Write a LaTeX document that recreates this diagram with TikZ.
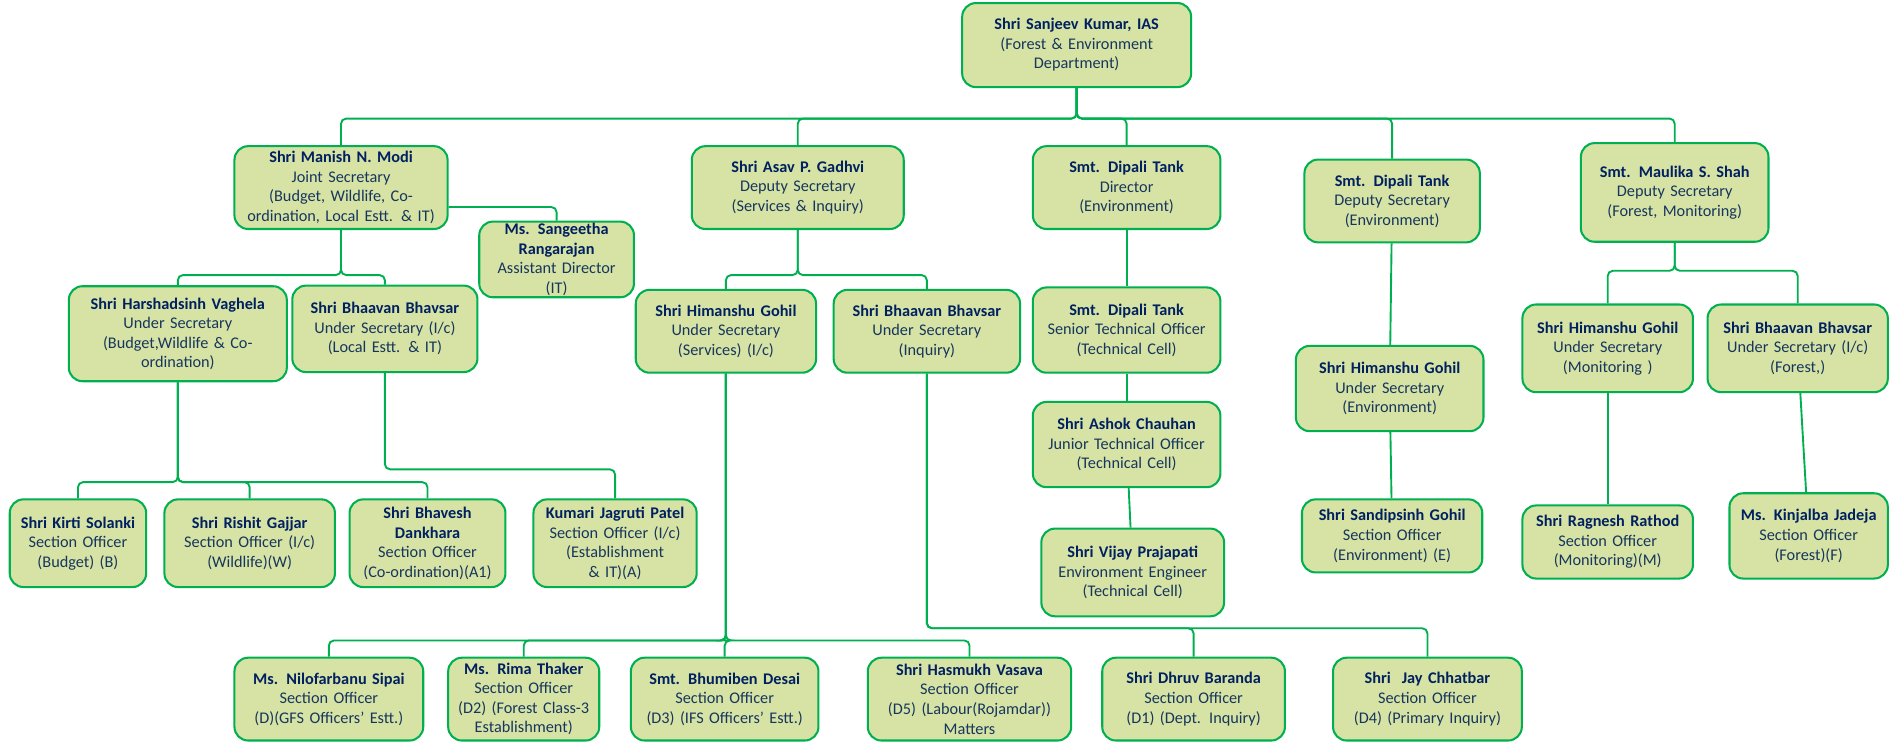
\documentclass[tikz,border=0pt]{standalone}
\usepackage{fontspec}
\setmainfont{Carlito}
\definecolor{boxfill}{RGB}{214,227,165}
\definecolor{boxline}{RGB}{0,176,80}
\definecolor{namecol}{RGB}{0,32,96}
\definecolor{bodycol}{RGB}{23,54,93}
\newcommand{\nm}[1]{{\bfseries\color{namecol}#1}}
\tikzset{
  box/.style 2 args={draw=boxline, fill=boxfill, line width=1.2pt, rounded corners=8pt,
    minimum width={#1*0.025cm}, minimum height={#2*0.025cm}, text width={(#1-8)*0.025cm},
    align=center, inner sep=1pt, text=bodycol,
    font=\fontsize{9.5}{11.4}\selectfont},
  link/.style={draw=boxline, line width=1.1pt, rounded corners=3pt}
}
\begin{document}
\begin{tikzpicture}[x=0.025cm, y=-0.025cm]
  \useasboundingbox (0,0) rectangle (1560,612);

  % top
  \node[box={188}{69}] (root) at (884,37) {\nm{Shri Sanjeev Kumar, IAS}\\(Forest \& Environment\\Department)};

  % secretaries
  \node[box={175}{68}] (modi) at (280,154) {\nm{Shri Manish N. Modi}\\Joint Secretary\\(Budget, Wildlife, Co-\\ordination, Local Estt. \& IT)};
  \node[box={127}{62}] (sang) at (457,213) {\nm{Ms. Sangeetha}\\\nm{Rangarajan}\\Assistant Director\\(IT)};
  \node[box={174}{68}] (gadhvi) at (655,154) {\nm{Shri Asav P. Gadhvi}\\Deputy Secretary\\(Services \& Inquiry)};
  \node[box={154}{68}] (dipdir) at (925,154) {\nm{Smt. Dipali Tank}\\Director\\(Environment)};
  \node[box={144}{68}] (dipdep) at (1143,165) {\nm{Smt. Dipali Tank}\\Deputy Secretary\\(Environment)};
  \node[box={154}{81}] (maulika) at (1375,158) {\nm{Smt. Maulika S. Shah}\\Deputy Secretary\\(Forest, Monitoring)};

  % under secretaries
  \node[box={179}{78}] (harsh) at (146,274) {\nm{Shri Harshadsinh Vaghela}\\Under Secretary\\(Budget,Wildlife \& Co-\\ordination)};
  \node[box={152}{71}] (bhavL) at (316,270) {\nm{Shri Bhaavan Bhavsar}\\Under Secretary  (I/c)\\(Local Estt. \& IT)};
  \node[box={148}{68}] (himS) at (596,272) {\nm{Shri Himanshu Gohil}\\Under Secretary\\(Services) (I/c)};
  \node[box={153}{68}] (bhavI) at (761,272) {\nm{Shri Bhaavan Bhavsar}\\Under Secretary\\(Inquiry)};
  \node[box={154}{70}] (dipsen) at (925,271) {\nm{Smt. Dipali Tank}\\Senior Technical Officer\\(Technical Cell)};
  \node[box={154}{70}] (ashok) at (925,365) {\nm{Shri Ashok Chauhan}\\Junior Technical Officer\\(Technical Cell)};
  \node[box={150}{72}] (vijay) at (930,470) {\nm{Shri Vijay Prajapati}\\Environment Engineer\\(Technical Cell)};
  \node[box={154}{70}] (himE) at (1141,319) {\nm{Shri Himanshu Gohil}\\Under Secretary\\(Environment)};
  \node[box={148}{60}] (sandip) at (1143,440) {\nm{Shri Sandipsinh Gohil}\\Section Officer\\(Environment) (E)};
  \node[box={140}{72}] (himM) at (1320,286) {\nm{Shri Himanshu Gohil}\\Under Secretary\\(Monitoring )};
  \node[box={148}{72}] (bhavF) at (1476,286) {\nm{Shri Bhaavan Bhavsar}\\Under Secretary (I/c)\\(Forest,)};
  \node[box={140}{60}] (ragnesh) at (1320,445) {\nm{Shri Ragnesh Rathod}\\Section Officer\\(Monitoring)(M)};
  \node[box={130}{70}] (kinjal) at (1485,440) {\nm{Ms. Kinjalba Jadeja}\\Section Officer\\(Forest)(F)};

  % section officers, left
  \node[box={112}{72}] (kirti) at (64,446) {\nm{Shri Kirti Solanki}\\Section Officer\\(Budget) (B)};
  \node[box={140}{72}] (rishit) at (205,446) {\nm{Shri Rishit Gajjar}\\Section Officer (I/c)\\(Wildlife)(W)};
  \node[box={128}{72}] (bhavesh) at (351,446) {\nm{Shri Bhavesh}\\\nm{Dankhara}\\Section Officer\\(Co-ordination)(A1)};
  \node[box={134}{72}] (jagruti) at (505,446) {\nm{Kumari Jagruti Patel}\\Section Officer (I/c)\\(Establishment \& IT)(A)};

  % section officers, bottom
  \node[box={155}{68}] (nilo) at (270,574) {\nm{Ms. Nilofarbanu Sipai}\\Section Officer\\(D)(GFS Officers’ Estt.)};
  \node[box={124}{68}] (rima) at (430,574) {\nm{Ms. Rima Thaker}\\Section Officer\\(D2) (Forest Class-3\\Establishment)};
  \node[box={154}{68}] (bhumi) at (595,574) {\nm{Smt. Bhumiben Desai}\\Section Officer\\(D3) (IFS Officers’ Estt.)};
  \node[box={167}{68}] (hasmukh) at (796,574) {\nm{Shri Hasmukh Vasava}\\Section Officer\\(D5) (Labour(Rojamdar))\\Matters};
  \node[box={150}{68}] (dhruv) at (980,574) {\nm{Shri Dhruv Baranda}\\Section Officer\\(D1) (Dept. Inquiry)};
  \node[box={155}{68}] (jay) at (1172,574) {\nm{Shri\ \ Jay Chhatbar}\\Section Officer\\(D4) (Primary Inquiry)};

  % connectors
  \foreach \c in {modi,gadhvi,dipdir,dipdep,maulika}
    \draw[link] (root.south) -- ++(0,25) -| (\c.north);
  \foreach \c in {harsh,bhavL}
    \draw[link] (modi.south) -- ++(0,37) -| (\c.north);
  \draw[link] ([yshift=-16*0.025cm]modi.east) -| (sang.north);
  \foreach \c in {himS,bhavI}
    \draw[link] (gadhvi.south) -- ++(0,37) -| (\c.north);
  \foreach \c in {kirti,rishit,bhavesh}
    \draw[link] (harsh.south) -- ++(0,82) -| (\c.north);
  \draw[link] (bhavL.south) -- ++(0,79) -| (jagruti.north);
  \foreach \c in {nilo,rima,bhumi,hasmukh}
    \draw[link] (himS.south) -- ++(0,219) -| (\c.north);
  \foreach \c in {dhruv,jay}
    \draw[link] (bhavI.south) -- ++(0,209) -| (\c.north);
  \draw[link] (dipdir) -- (dipsen);
  \draw[link] (dipsen) -- (ashok);
  \draw[link] (ashok) -- (vijay);
  \draw[link] (dipdep) -- (himE);
  \draw[link] (himE) -- (sandip);
  \foreach \c in {himM,bhavF}
    \draw[link] (maulika.south) -- ++(0,23) -| (\c.north);
  \draw[link] (himM) -- (ragnesh);
  \draw[link] (bhavF) -- (kinjal);
\end{tikzpicture}
\end{document}
